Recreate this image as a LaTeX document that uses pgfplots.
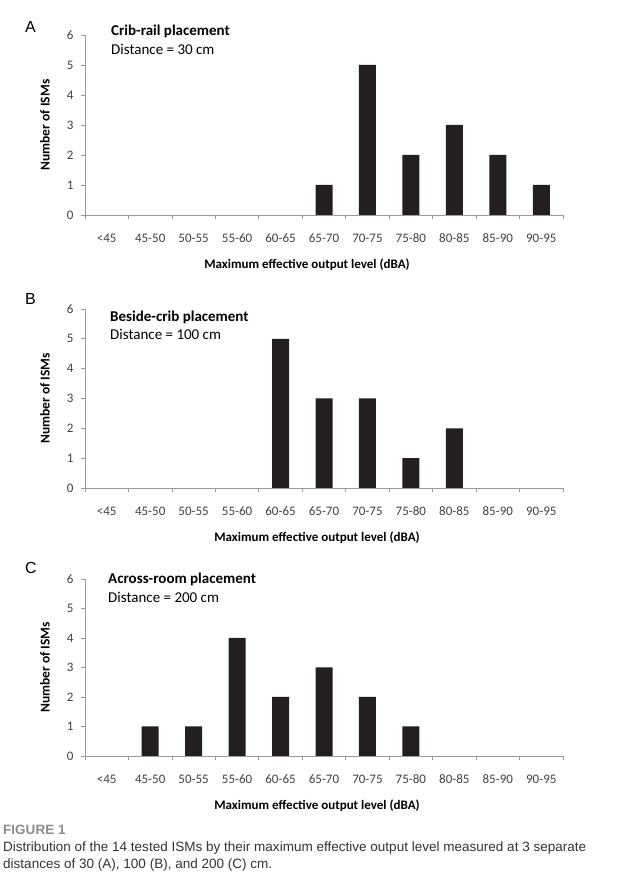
\documentclass[border=0pt]{standalone}
\usepackage{pgfplots}
\pgfplotsset{compat=1.18}
\usepackage{fontspec}
\setmainfont{Carlito}
\newfontfamily\arial{Liberation Sans}
\definecolor{barc}{HTML}{231F20}
\definecolor{axc}{HTML}{9A9A9A}
\definecolor{tickc}{HTML}{404040}
\definecolor{figc}{HTML}{8C8C8C}
\definecolor{capc}{HTML}{333333}

\pgfplotsset{
 ismstyle/.style={
  scale only axis, width=478pt,
  xmin=-0.5, xmax=10.5, ymin=0, ymax=6,
  axis x line*=bottom, axis y line*=left,
  axis line style={-, axc, line width=0.8pt},
  xtick={0,...,10},
  xticklabels={{<45},45-50,50-55,55-60,60-65,65-70,70-75,75-80,80-85,85-90,90-95},
  major x tick style={draw=none},
  minor xtick={-0.5,0.5,...,10.5},
  minor x tick style={axc, line width=0.8pt},
  minor tick length=4pt,
  ytick={0,...,6},
  major tick length=4pt,
  y tick style={axc, line width=0.8pt},
  tick align=outside,
  /pgf/number format/assume math mode=true,
  tick label style={font=\fontsize{13}{14}\selectfont, text=tickc},
  xticklabel style={anchor=north, text height=9pt, text depth=2pt, inner sep=0pt, yshift=-14pt},
  yticklabel style={xshift=-4pt},
  xlabel={Maximum effective output level (dBA)},
  ylabel={Number of ISMs},
  every axis x label/.style={at={(axis description cs:0.5,0)}, anchor=center, yshift=-50pt, font=\bfseries\fontsize{13}{15}\selectfont},
  every axis y label/.style={at={(axis description cs:0,0.5)}, anchor=center, rotate=90, yshift=40pt, font=\bfseries\fontsize{13.5}{15}\selectfont},
  ybar, bar width=17pt,
  anchor=south west,
 }
}

\pgfplotstableread{
x y
5 1
6 5
7 2
8 3
9 2
10 1
}\dataA
\pgfplotstableread{
x y
4 5
5 3
6 3
7 1
8 2
}\dataB
\pgfplotstableread{
x y
1 1
2 1
3 4
4 2
5 3
6 2
7 1
}\dataC

\begin{document}
\begin{tikzpicture}[x=1pt,y=1pt]
\path[use as bounding box] (0,0) rectangle (628,889);

\begin{axis}[ismstyle, at={(85pt,674pt)}, height=180pt,
  every axis x label/.append style={xshift=-17pt}]
\addplot[fill=barc, draw=none] table[x=x,y=y] {\dataA};
\end{axis}

\begin{axis}[ismstyle, at={(85pt,401pt)}, height=179pt,
  every axis x label/.append style={xshift=-7pt}]
\addplot[fill=barc, draw=none] table[x=x,y=y] {\dataB};
\end{axis}

\begin{axis}[ismstyle, at={(85pt,133pt)}, height=177pt,
  every axis x label/.append style={xshift=-7pt}]
\addplot[fill=barc, draw=none] table[x=x,y=y] {\dataC};
\end{axis}

\node[anchor=base west, inner sep=0, font=\bfseries\fontsize{15}{16}\selectfont] at (111,853) {Crib-rail placement};
\node[anchor=base west, inner sep=0, font=\fontsize{15}{16}\selectfont] at (111,834) {Distance = 30 cm};
\node[anchor=base west, inner sep=0, font=\bfseries\fontsize{15}{16}\selectfont] at (110,567) {Beside-crib placement};
\node[anchor=base west, inner sep=0, font=\fontsize{15}{16}\selectfont] at (110,549) {Distance = 100 cm};
\node[anchor=base west, inner sep=0, font=\bfseries\fontsize{15}{16}\selectfont] at (108,305) {Across-room placement};
\node[anchor=base west, inner sep=0, font=\fontsize{15}{16}\selectfont] at (108,286) {Distance = 200 cm};

\node[anchor=base west, inner sep=0, font=\arial\fontsize{16}{16}\selectfont] at (25,856) {A};
\node[anchor=base west, inner sep=0, font=\arial\fontsize{16}{16}\selectfont] at (25,584) {B};
\node[anchor=base west, inner sep=0, font=\arial\fontsize{16}{16}\selectfont] at (25,315) {C};

\node[anchor=base west, inner sep=0] at (3,55) {\resizebox{583pt}{\height}{\arial\fontsize{13.5}{17}\selectfont\color{capc}\begin{tabular}[t]{@{}l@{}}\textcolor{figc}{\bfseries FIGURE 1}\\Distribution of the 14 tested ISMs by their maximum effective output level measured at 3 separate\\distances of 30 (A), 100 (B), and 200 (C) cm.\end{tabular}}};
\end{tikzpicture}
\end{document}
